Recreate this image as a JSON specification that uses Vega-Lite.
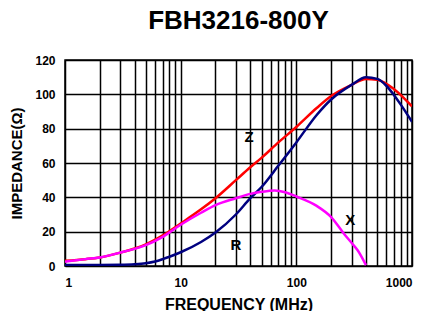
{
  "$schema": "https://vega.github.io/schema/vega-lite/v6.json",
  "autosize": "none",
  "width": 347,
  "height": 206,
  "padding": {"left": 65, "top": 60, "right": 23, "bottom": 45},
  "background": "white",
  "title": {"text": "FBH3216-800Y", "fontSize": 26, "font": "Liberation Sans", "fontWeight": "bold", "color": "black", "anchor": "middle", "offset": 20},
  "config": {
    "font": "Liberation Sans",
    "view": {"stroke": "black", "strokeWidth": 1.5},
    "axis": {"grid": true, "gridColor": "black", "gridOpacity": 1, "gridWidth": 1.5, "ticks": false, "domain": false, "labelOverlap": false,
      "labelFont": "Liberation Sans", "labelFontWeight": "bold", "labelFontSize": 12, "labelColor": "black",
      "titleFont": "Liberation Sans", "titleFontWeight": "bold", "titleColor": "black"}
  },
  "datasets": {
    "curves": [
      {"s": "Z", "f": 1, "v": 3}, {"s": "Z", "f": 1.5, "v": 4}, {"s": "Z", "f": 2, "v": 5}, {"s": "Z", "f": 3, "v": 7.8}, {"s": "Z", "f": 4, "v": 10.2}, {"s": "Z", "f": 5, "v": 12.6}, {"s": "Z", "f": 7, "v": 17.8}, {"s": "Z", "f": 10, "v": 24.8}, {"s": "Z", "f": 15, "v": 33}, {"s": "Z", "f": 20, "v": 39.5}, {"s": "Z", "f": 30, "v": 50}, {"s": "Z", "f": 40, "v": 57.5}, {"s": "Z", "f": 50, "v": 63}, {"s": "Z", "f": 70, "v": 72}, {"s": "Z", "f": 100, "v": 81}, {"s": "Z", "f": 150, "v": 92}, {"s": "Z", "f": 200, "v": 99}, {"s": "Z", "f": 300, "v": 105.5}, {"s": "Z", "f": 400, "v": 109}, {"s": "Z", "f": 500, "v": 108.5}, {"s": "Z", "f": 700, "v": 103}, {"s": "Z", "f": 1000, "v": 93},
      {"s": "R", "f": 1, "v": 0.6}, {"s": "R", "f": 2, "v": 0.6}, {"s": "R", "f": 3, "v": 0.7}, {"s": "R", "f": 4, "v": 1}, {"s": "R", "f": 5, "v": 1.6}, {"s": "R", "f": 6, "v": 2.6}, {"s": "R", "f": 7, "v": 4}, {"s": "R", "f": 8, "v": 5.4}, {"s": "R", "f": 10, "v": 8}, {"s": "R", "f": 15, "v": 14}, {"s": "R", "f": 20, "v": 19.5}, {"s": "R", "f": 30, "v": 30}, {"s": "R", "f": 40, "v": 39.5}, {"s": "R", "f": 50, "v": 46}, {"s": "R", "f": 70, "v": 58.5}, {"s": "R", "f": 100, "v": 72}, {"s": "R", "f": 150, "v": 88}, {"s": "R", "f": 200, "v": 97}, {"s": "R", "f": 300, "v": 105.5}, {"s": "R", "f": 400, "v": 110}, {"s": "R", "f": 500, "v": 109}, {"s": "R", "f": 600, "v": 105}, {"s": "R", "f": 700, "v": 99.5}, {"s": "R", "f": 800, "v": 94}, {"s": "R", "f": 1000, "v": 84},
      {"s": "X", "f": 1, "v": 2.5}, {"s": "X", "f": 1.5, "v": 4}, {"s": "X", "f": 2, "v": 5}, {"s": "X", "f": 3, "v": 7.8}, {"s": "X", "f": 4, "v": 10}, {"s": "X", "f": 5, "v": 12.2}, {"s": "X", "f": 7, "v": 17}, {"s": "X", "f": 10, "v": 24}, {"s": "X", "f": 15, "v": 31}, {"s": "X", "f": 20, "v": 35.5}, {"s": "X", "f": 30, "v": 39.5}, {"s": "X", "f": 40, "v": 42}, {"s": "X", "f": 50, "v": 43.2}, {"s": "X", "f": 65, "v": 44}, {"s": "X", "f": 80, "v": 43}, {"s": "X", "f": 100, "v": 40.5}, {"s": "X", "f": 150, "v": 35}, {"s": "X", "f": 200, "v": 28.5}, {"s": "X", "f": 260, "v": 18.5}, {"s": "X", "f": 300, "v": 13.5}, {"s": "X", "f": 340, "v": 9}, {"s": "X", "f": 400, "v": 0.5}
    ],
    "labels": [
      {"t": "Z", "f": 39, "v": 75}, {"t": "X", "f": 292, "v": 27}, {"t": "R", "f": 30, "v": 12}
    ]
  },
  "encoding": {
    "x": {"field": "f", "type": "quantitative",
      "scale": {"type": "log", "domain": [1, 1000], "nice": false},
      "axis": {"title": "FREQUENCY (MHz)", "titleFontSize": 16, "titlePadding": 8, "labelPadding": 11,
        "values": [1,2,3,4,5,6,7,8,9,10,20,30,40,50,60,70,80,90,100,200,300,400,500,600,700,800,900,1000],
        "labelExpr": "indexof(['1','10','100','1000'], datum.label) >= 0 ? datum.label : ''", "format": "d"}},
    "y": {"field": "v", "type": "quantitative",
      "scale": {"domain": [0, 120], "nice": false},
      "axis": {"title": "IMPEDANCE(Ω)", "titleFontSize": 15, "titlePadding": 10, "labelPadding": 10, "values": [0,20,40,60,80,100,120]}}
  },
  "layer": [
    {
      "data": {"name": "curves"},
      "mark": {"type": "line", "strokeWidth": 2.5, "clip": true, "interpolate": "monotone"},
      "encoding": {
        "color": {"field": "s", "type": "nominal",
          "scale": {"domain": ["Z", "R", "X"], "range": ["#FF0000", "#000080", "#FF00FF"]}, "legend": null},
        "order": {"field": "f", "type": "quantitative"}
      }
    },
    {
      "data": {"name": "labels"},
      "mark": {"type": "text", "fontSize": 15, "fontWeight": "bold", "font": "Liberation Sans", "color": "black"},
      "encoding": {
        "text": {"field": "t"}
      }
    }
  ]
}
